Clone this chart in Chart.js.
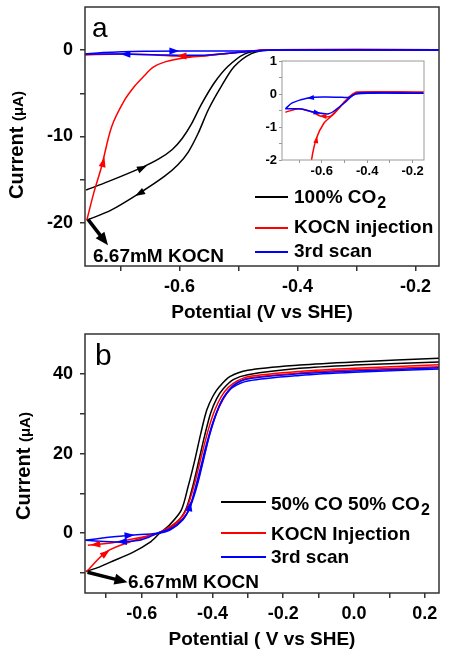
<!DOCTYPE html>
<html>
<head>
<meta charset="utf-8">
<script src="https://cdn.jsdelivr.net/npm/chart.js@4/dist/chart.umd.min.js"></script>
<style>
  body { margin: 0; background: #fff; }
  #wrap { position: relative; width: 450px; height: 657px; }
  canvas { position: absolute; }
</style>
</head>
<body>
<div id="wrap">
  <canvas id="chartA" width="450" height="330" style="left:0px;top:0px"></canvas>
  <canvas id="chartB" width="450" height="337" style="left:0px;top:320px"></canvas>
  <canvas id="inset" width="185" height="132" style="left:250px;top:50px"></canvas>
</div>
<script>
// ---- data (a) 100% CO2 / KOCN injection / 3rd scan, potential V vs SHE, current uA
var aBlackFwd = [[-0.758,-16.2],[-0.72,-15.2],[-0.664,-13.6],[-0.635,-12.6],[-0.612,-11.5],[-0.595,-10.2],[-0.58,-8.6],[-0.563,-6.3],[-0.541,-3.8],[-0.518,-1.9],[-0.49,-0.45],[-0.46,0],[-0.4,0.05],[-0.16,0.05]];
var aBlackRev = [[-0.16,0],[-0.45,0],[-0.478,-0.4],[-0.507,-1.9],[-0.529,-4.2],[-0.551,-6.9],[-0.568,-9.6],[-0.585,-11.8],[-0.603,-13.3],[-0.625,-14.6],[-0.664,-16.4],[-0.715,-18.5],[-0.757,-19.7]];
var aRedFwd = [[-0.757,-19.7],[-0.745,-16.5],[-0.732,-13.5],[-0.715,-8.9],[-0.693,-5.8],[-0.675,-4.1],[-0.66,-3.0],[-0.645,-2.0],[-0.623,-1.33],[-0.59,-0.88],[-0.56,-0.68],[-0.52,-0.39],[-0.48,-0.1],[-0.445,0.05],[-0.15,0.05]];
var aRedRev = [[-0.15,0.05],[-0.445,0.05],[-0.48,-0.1],[-0.52,-0.39],[-0.56,-0.67],[-0.605,-0.67],[-0.64,-0.55],[-0.7,-0.45],[-0.76,-0.55]];
var aBlueFwd = [[-0.76,-0.45],[-0.73,-0.27],[-0.66,-0.12],[-0.585,-0.09],[-0.51,-0.1],[-0.48,-0.1],[-0.44,0.03],[-0.15,0.02]];
var aBlueRev = [[-0.15,0.02],[-0.45,0],[-0.495,-0.24],[-0.535,-0.46],[-0.57,-0.6],[-0.63,-0.55],[-0.7,-0.45],[-0.76,-0.45]];

// ---- data (b) 50% CO 50% CO2
var bBlackFwd = [[-0.757,-9.6],[-0.72,-8.5],[-0.69,-7.3],[-0.625,-4.8],[-0.577,-2.3],[-0.549,0],[-0.52,2.2],[-0.488,5.8],[-0.469,11.6],[-0.45,18.3],[-0.433,25],[-0.416,30.9],[-0.398,34.5],[-0.38,36.8],[-0.351,39.3],[-0.3,40.9],[-0.154,42.2],[0,43],[0.24,43.9]];
var bBlackRev = [[0.24,43.0],[0,42.2],[-0.154,41.4],[-0.3,39.8],[-0.34,38.6],[-0.37,36.2],[-0.388,33.8],[-0.405,30.2],[-0.422,24.5],[-0.439,18],[-0.457,11.3],[-0.475,6],[-0.5,2.8],[-0.549,0]];
var bRedFwd = [[-0.756,-9.7],[-0.7,-4.7],[-0.634,-2.2],[-0.587,-0.9],[-0.555,0],[-0.51,2.2],[-0.478,5.2],[-0.46,9.5],[-0.446,14],[-0.428,20.5],[-0.41,26.5],[-0.393,31],[-0.375,34.3],[-0.355,36.6],[-0.33,38.2],[-0.3,39.3],[-0.154,40.6],[0,41.4],[0.24,42.3]];
var bRedRev = [[0.24,41.8],[0,41],[-0.154,40.2],[-0.3,38.9],[-0.33,37.7],[-0.352,35.9],[-0.37,33.6],[-0.388,30.2],[-0.405,25.8],[-0.422,20],[-0.44,13.5],[-0.455,9],[-0.472,5],[-0.505,2],[-0.555,0],[-0.587,-0.75],[-0.653,-1.9],[-0.7,-2.6],[-0.752,-3.0]];
var bBlueFwd = [[-0.761,-1.75],[-0.7,-1.1],[-0.634,-0.5],[-0.555,0],[-0.52,0.8],[-0.484,3.3],[-0.464,6.5],[-0.448,11.5],[-0.432,17],[-0.418,22],[-0.4,27.5],[-0.383,31.5],[-0.365,34.5],[-0.343,36.6],[-0.3,38.2],[-0.154,39.6],[0,40.4],[0.24,41.2]];
var bBlueRev = [[0.24,41.5],[0,40.7],[-0.154,40],[-0.3,38.7],[-0.34,37.2],[-0.36,35.2],[-0.378,32.5],[-0.395,28.5],[-0.41,24],[-0.425,18.5],[-0.44,13],[-0.455,8.5],[-0.475,4.5],[-0.51,1.5],[-0.555,0],[-0.58,-1.0],[-0.606,-1.76],[-0.662,-2.2],[-0.761,-1.75]];

// tick values
var aXMajor = [-0.6,-0.4,-0.2], aXMinor = [-0.7,-0.5,-0.3];
var aYMajor = [-20,-10,0], aYMinor = [-15,-5];
var bXMajor = [-0.6,-0.4,-0.2,0,0.2], bXMinor = [-0.7,-0.5,-0.3,-0.1,0.1];
var bYMajor = [0,20,40], bYMinor = [-10,10,30];
var inXMajor = [-0.6,-0.4,-0.2], inXMinor = [-0.7,-0.5,-0.3];
var inYMajor = [-2,-1,0,1], inYMinor = [-1.5,-0.5,0.5];

// arrowheads along the curves [from, to] in data units
var aArrows = [
  {c:'#000', from:[-0.69,-14.5], to:[-0.655,-13.4]},
  {c:'#000', from:[-0.64,-15.5], to:[-0.675,-16.9]},
  {c:'#f00', from:[-0.737,-15.2], to:[-0.727,-12.4]},
  {c:'#f00', from:[-0.57,-0.67], to:[-0.605,-0.67]},
  {c:'#00f', from:[-0.66,-0.5], to:[-0.7,-0.45]},
  {c:'#00f', from:[-0.64,-0.1], to:[-0.6,-0.09]}
];
var inArrows = [
  {c:'#f00', from:[-0.63,-1.6], to:[-0.62,-1.28]},
  {c:'#f00', from:[-0.58,-0.68], to:[-0.61,-0.67]},
  {c:'#00f', from:[-0.63,-0.1], to:[-0.665,-0.13]},
  {c:'#00f', from:[-0.64,-0.54], to:[-0.605,-0.58]}
];
var bArrows = [
  {c:'#f00', from:[-0.72,-6.2], to:[-0.69,-4.2]},
  {c:'#f00', from:[-0.7,-2.6], to:[-0.745,-2.95]},
  {c:'#00f', from:[-0.66,-0.7], to:[-0.62,-0.42]},
  {c:'#00f', from:[-0.63,-2.0], to:[-0.67,-2.2]},
  {c:'#00f', from:[-0.469,4.5], to:[-0.461,8]}
];
var aKocnArrow = {from:[-0.755,-19.6], to:[-0.721,-22.6]};
var bKocnArrow = {from:[-0.753,-9.8], to:[-0.64,-12.3]};

var FF = "'Liberation Sans', Arial, sans-serif";
var RED = '#ff0000', BLUE = '#0000ff';

function ds(arr, color, w) {
    return {
        data: arr.map(function(p) { return {x: p[0], y: p[1]}; }),
        showLine: true,
        borderColor: color,
        borderWidth: w || 1.5,
        pointRadius: 0,
        tension: 0.3,
        fill: false,
        clip: 0
    };
}

function axis(min, max, major, minor, o) {
    var all = major.concat(minor).sort(function(a, b) { return a - b; });
    return {
        type: 'linear',
        min: min,
        max: max,
        afterBuildTicks: function(s) { s.ticks = all.map(function(v) { return {value: v}; }); },
        afterFit: function(s) {
            if (o.w != null) s.width = o.w;
            if (o.h != null) s.height = o.h;
            // no extra room for edge labels
            s.paddingTop = 0; s.paddingBottom = 0; s.paddingLeft = 0; s.paddingRight = 0;
        },
        ticks: {
            autoSkip: false, maxRotation: 0, minRotation: 0,
            padding: o.pad, color: '#000',
            font: {family: FF, size: o.fs, weight: 'bold'},
            callback: function(v) {
                return major.some(function(m) { return Math.abs(m - v) < 1e-9; }) ? o.fmt(v) : '';
            }
        },
        grid: {drawOnChartArea: false, drawTicks: true, tickLength: o.tl, color: o.col, lineWidth: o.lw},
        border: {display: false}
    };
}

function head(ctx, x1, y1, x2, y2, len, wid, color) {
    var ang = Math.atan2(y2 - y1, x2 - x1);
    ctx.save();
    ctx.translate(x2, y2);
    ctx.rotate(ang);
    ctx.beginPath();
    ctx.moveTo(0, 0);
    ctx.lineTo(-len, wid / 2);
    ctx.lineTo(-len, -wid / 2);
    ctx.closePath();
    ctx.fillStyle = color;
    ctx.fill();
    ctx.restore();
}

function subText(ctx, x, y, main, sub, size) {
    ctx.font = 'bold ' + size + 'px ' + FF;
    ctx.fillText(main, x, y);
    if (sub) {
        var w = ctx.measureText(main).width;
        ctx.font = 'bold ' + Math.round(size * 0.85) + 'px ' + FF;
        ctx.fillText(sub, x + w + 1, y + size * 0.28);
    }
}

//注記・枠・凡例
var cvMarks = {
    id: 'cvMarks',
    afterDatasetsDraw: function(chart, args, o) {
        var ctx = chart.ctx, xs = chart.scales.x, ys = chart.scales.y;
        var px = function(p) { return [xs.getPixelForValue(p[0]), ys.getPixelForValue(p[1])]; };
        (o.arrows || []).forEach(function(a) {
            var f = px(a.from), t = px(a.to);
            head(ctx, f[0], f[1], t[0], t[1], o.hl || 10, o.hw || 7, a.c);
        });
        if (o.big) {
            var f = px(o.big.from), t = px(o.big.to);
            var ang = Math.atan2(t[1] - f[1], t[0] - f[0]);
            ctx.save();
            ctx.strokeStyle = '#000';
            ctx.lineWidth = 3.5;
            ctx.beginPath();
            ctx.moveTo(f[0], f[1]);
            ctx.lineTo(t[0] - Math.cos(ang) * 10, t[1] - Math.sin(ang) * 10);
            ctx.stroke();
            ctx.restore();
            head(ctx, f[0], f[1], t[0], t[1], 13, 11, '#000');
        }
    },
    afterDraw: function(chart, args, o) {
        var ctx = chart.ctx, ca = chart.chartArea;
        ctx.save();
        ctx.strokeStyle = o.frame || '#333';
        ctx.lineWidth = o.fw || 1.5;
        ctx.strokeRect(ca.left, ca.top, ca.right - ca.left, ca.bottom - ca.top);
        ctx.fillStyle = '#000';
        ctx.textBaseline = 'alphabetic';
        (o.texts || []).forEach(function(t) {
            ctx.font = (t.bold === false ? '' : 'bold ') + t.size + 'px ' + FF;
            ctx.textAlign = t.align || 'left';
            ctx.fillText(t.t, t.x, t.y);
        });
        ctx.textAlign = 'left';
        if (o.legend) {
            var L = o.legend;
            L.items.forEach(function(it) {
                ctx.strokeStyle = it.c;
                ctx.lineWidth = 2;
                ctx.beginPath();
                ctx.moveTo(L.x0, it.ly);
                ctx.lineTo(L.x1, it.ly);
                ctx.stroke();
                ctx.fillStyle = '#000';
                subText(ctx, L.tx, it.by, it.t, it.sub, L.size);
            });
        }
        if (o.yTitle) {
            var Y = o.yTitle;
            ctx.save();
            ctx.translate(Y.x, Y.y);
            ctx.rotate(-Math.PI / 2);
            ctx.font = 'bold 20px ' + FF;
            var w1 = ctx.measureText('Current ').width;
            ctx.font = 'bold 15px ' + FF;
            var w2 = ctx.measureText('(\u03bcA)').width;
            var s = -(w1 + w2) / 2;
            ctx.font = 'bold 20px ' + FF;
            ctx.fillText('Current ', s, 0);
            ctx.font = 'bold 15px ' + FF;
            ctx.fillText('(\u03bcA)', s + w1, 0);
            ctx.restore();
        }
        ctx.restore();
    }
};

function baseOpts(pad, scales, marks) {
    return {
        responsive: false,
        animation: false,
        devicePixelRatio: 1,
        layout: {padding: pad},
        plugins: {legend: {display: false}, tooltip: {enabled: false}, cvMarks: marks},
        scales: scales
    };
}

var fmt1 = function(v) { return v.toFixed(1); };
var fmt0 = function(v) { return String(Math.round(v)); };

// panel a
new Chart(document.getElementById('chartA'), {
    type: 'scatter',
    data: {datasets: [ds(aBlueFwd, BLUE), ds(aBlueRev, BLUE), ds(aRedFwd, RED), ds(aRedRev, RED), ds(aBlackFwd, '#000'), ds(aBlackRev, '#000')]},
    options: baseOpts({left: 0, right: 11, top: 7, bottom: 0}, {
        x: axis(-0.76, -0.16, aXMajor, aXMinor, {h: 64, pad: 5, fs: 18, tl: 5, col: '#333', lw: 1.5, fmt: fmt1}),
        y: axis(-25, 5, aYMajor, aYMinor, {w: 85, pad: 7, fs: 18, tl: 5, col: '#333', lw: 1.5, fmt: fmt0})
    }, {
        arrows: aArrows,
        big: aKocnArrow,
        texts: [
            {t: 'a', x: 92, y: 37, size: 28, bold: false},
            {t: '6.67mM KOCN', x: 93, y: 262, size: 19},
            {t: 'Potential (V vs SHE)', x: 262, y: 318, size: 19, align: 'center'}
        ],
        legend: {x0: 255, x1: 288, tx: 294, size: 19, items: [
            {c: '#000', t: '100% CO', sub: '2', ly: 197, by: 203},
            {c: RED, t: 'KOCN injection', ly: 228, by: 233},
            {c: BLUE, t: '3rd scan', ly: 252, by: 257}
        ]},
        yTitle: {x: 23, y: 145}
    }),
    plugins: [cvMarks]
});

// inset
new Chart(document.getElementById('inset'), {
    type: 'scatter',
    data: {datasets: [ds(aBlueFwd, BLUE), ds(aBlueRev, BLUE), ds(aRedFwd, RED), ds(aRedRev, RED)]},
    options: baseOpts({left: 0, right: 11, top: 11, bottom: 0}, {
        x: axis(-0.775, -0.15, inXMajor, inXMinor, {h: 22, pad: 1, fs: 13, tl: 3, col: '#999', lw: 1, fmt: fmt1}),
        y: axis(-2, 1, inYMajor, inYMinor, {w: 32, pad: 2, fs: 13, tl: 3, col: '#999', lw: 1, fmt: fmt0})
    }, {
        arrows: inArrows, hl: 7, hw: 5, frame: '#999', fw: 1
    }),
    plugins: [cvMarks]
});

// panel b
new Chart(document.getElementById('chartB'), {
    type: 'scatter',
    data: {datasets: [ds(bBlueFwd, BLUE), ds(bBlueRev, BLUE), ds(bRedFwd, RED), ds(bRedRev, RED), ds(bBlackFwd, '#000'), ds(bBlackRev, '#000')]},
    options: baseOpts({left: 0, right: 11, top: 14, bottom: 0}, {
        x: axis(-0.76, 0.24, bXMajor, bXMinor, {h: 64, pad: 5, fs: 18, tl: 5, col: '#333', lw: 1.5, fmt: fmt1}),
        y: axis(-15, 50, bYMajor, bYMinor, {w: 85, pad: 7, fs: 18, tl: 5, col: '#333', lw: 1.5, fmt: fmt0})
    }, {
        arrows: bArrows,
        big: bKocnArrow,
        texts: [
            {t: 'b', x: 95, y: 45, size: 30, bold: false},
            {t: '6.67mM KOCN', x: 128, y: 268, size: 19},
            {t: 'Potential ( V vs SHE)', x: 262, y: 325, size: 19, align: 'center'}
        ],
        legend: {x0: 221, x1: 266, tx: 271, size: 19, items: [
            {c: '#000', t: '50% CO 50% CO', sub: '2', ly: 182, by: 190},
            {c: RED, t: 'KOCN Injection', ly: 213, by: 220},
            {c: BLUE, t: '3rd scan', ly: 237, by: 243}
        ]},
        yTitle: {x: 30, y: 146}
    }),
    plugins: [cvMarks]
});
</script>
</body>
</html>
